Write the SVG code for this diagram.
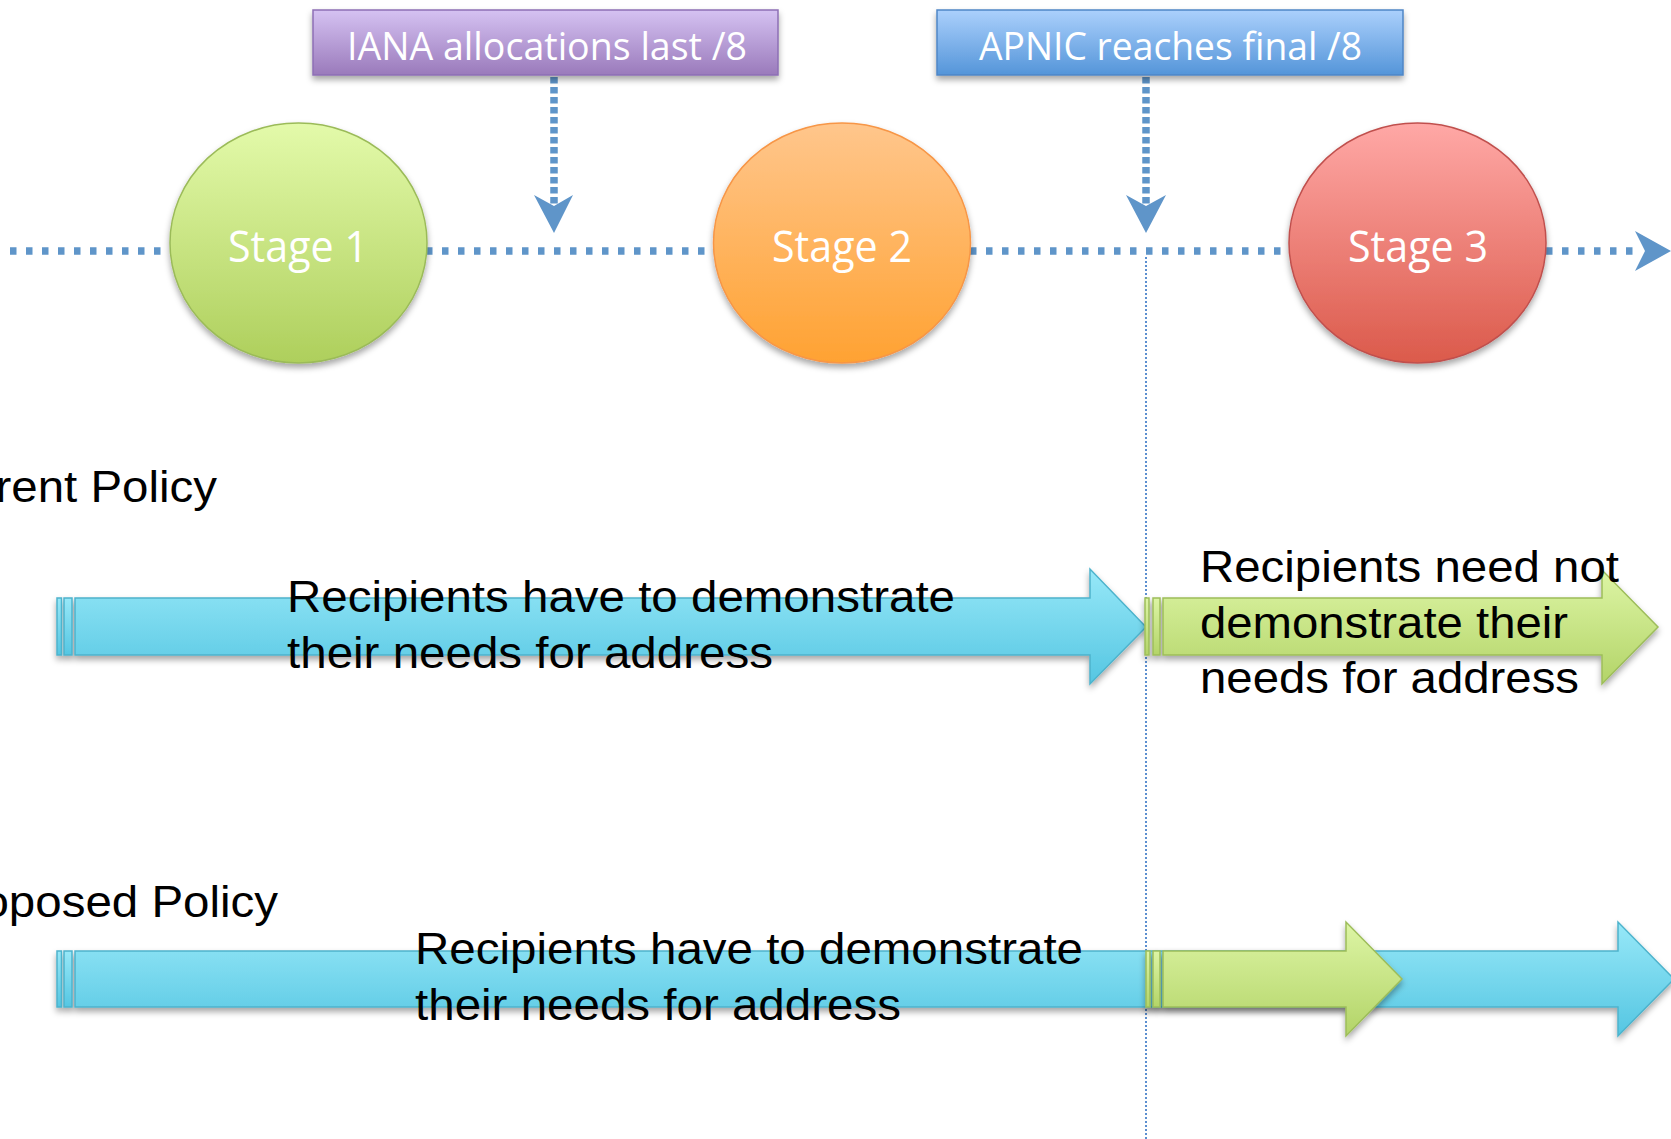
<svg xmlns="http://www.w3.org/2000/svg" width="1671" height="1139" viewBox="0 0 1671 1139">
<defs>
  <linearGradient id="gPurple" x1="0" y1="0" x2="0" y2="1"><stop offset="0" stop-color="#d5c2f2"/><stop offset="1" stop-color="#9a7abb"/></linearGradient>
  <linearGradient id="gBlueBox" x1="0" y1="0" x2="0" y2="1"><stop offset="0" stop-color="#abd0fc"/><stop offset="1" stop-color="#5495d9"/></linearGradient>
  <linearGradient id="gGreenC" x1="0" y1="0" x2="0" y2="1"><stop offset="0" stop-color="#e3faaa"/><stop offset="1" stop-color="#aecf5c"/></linearGradient>
  <linearGradient id="gOrange" x1="0" y1="0" x2="0" y2="1"><stop offset="0" stop-color="#ffc68c"/><stop offset="1" stop-color="#ffa232"/></linearGradient>
  <linearGradient id="gRed" x1="0" y1="0" x2="0" y2="1"><stop offset="0" stop-color="#ffa8a6"/><stop offset="1" stop-color="#db5a4b"/></linearGradient>
  <linearGradient id="gCyan" gradientUnits="objectBoundingBox" x1="0" y1="0" x2="0" y2="1"><stop offset="0" stop-color="#97e8f8"/><stop offset="1" stop-color="#55c6e2"/></linearGradient>
  <linearGradient id="gLime" x1="0" y1="0" x2="0" y2="1"><stop offset="0" stop-color="#ddf5a5"/><stop offset="1" stop-color="#b3d468"/></linearGradient>
  <filter id="sh" x="-10%" y="-20%" width="120%" height="150%">
    <feDropShadow dx="0" dy="4" stdDeviation="3" flood-color="#000" flood-opacity="0.35"/>
  </filter>
  <style>
    .tl { fill:none; stroke:#5f95c9; stroke-width:7.5; }
    .hd { fill:#5f95c9; }
    .box { stroke-width:1.5; filter:url(#sh); }
    .boxt { font-family:"Open Sans","Noto Sans",sans-serif; font-size:38px; fill:#ffffff; }
    .stg { stroke-width:1.5; filter:url(#sh); }
    .stgt { font-family:"Open Sans","Noto Sans",sans-serif; font-size:43px; fill:#ffffff; }
    .cy { fill:url(#gCyan); stroke:#4db3cc; stroke-width:1.5; }
    .lm { fill:url(#gLime); stroke:#9dbd5a; stroke-width:1.5; }
    .t { font-family:"Liberation Sans",Arial,sans-serif; font-size:44px; fill:#000; }
  </style>
</defs>
<g id="connectors">
  <line class="tl" x1="10" y1="251" x2="1640" y2="251" stroke-dasharray="6.5 9.5"/>
  <polygon class="hd" points="1635,231 1671,251 1635,271 1645,251"/>
  <line class="tl" x1="554" y1="77" x2="554" y2="205" stroke-dasharray="6.5 3.5"/>
  <polygon class="hd" points="534,195 554,233 573,195 554,206"/>
  <line class="tl" x1="1146" y1="77" x2="1146" y2="205" stroke-dasharray="6.5 3.5"/>
  <polygon class="hd" points="1126,195 1146,233 1166,195 1146,206"/>
  <line x1="1146" y1="257" x2="1146" y2="1139" stroke="#5b8fd0" stroke-width="2" stroke-dasharray="2 2"/>
</g>
<g id="iana">
  <rect class="box" x="313" y="10" width="465" height="65" fill="url(#gPurple)" stroke="#8d6fb5"/>
  <text class="boxt" x="347" y="60" textLength="400" lengthAdjust="spacingAndGlyphs">IANA allocations last /8</text>
</g>
<g id="apnic">
  <rect class="box" x="937" y="10" width="466" height="65" fill="url(#gBlueBox)" stroke="#4f86c6"/>
  <text class="boxt" x="979" y="60" textLength="383" lengthAdjust="spacingAndGlyphs">APNIC reaches final /8</text>
</g>
<g id="stage1">
  <ellipse class="stg" cx="298.5" cy="243" rx="128.5" ry="120" fill="url(#gGreenC)" stroke="#9bbb59"/>
  <text class="stgt" x="228" y="262" textLength="140" lengthAdjust="spacingAndGlyphs">Stage 1</text>
</g>
<g id="stage2">
  <ellipse class="stg" cx="842" cy="243" rx="128.5" ry="120" fill="url(#gOrange)" stroke="#f79646"/>
  <text class="stgt" x="772" y="262" textLength="140" lengthAdjust="spacingAndGlyphs">Stage 2</text>
</g>
<g id="stage3">
  <ellipse class="stg" cx="1417.5" cy="243" rx="128.5" ry="120" fill="url(#gRed)" stroke="#c0504d"/>
  <text class="stgt" x="1348" y="262" textLength="140" lengthAdjust="spacingAndGlyphs">Stage 3</text>
</g>
<g id="current-label">
  <text class="t" x="-81" y="502" textLength="298" lengthAdjust="spacingAndGlyphs">Current Policy</text>
</g>
<g id="current-blue-arrow" filter="url(#sh)">
  <rect class="cy" x="57" y="598" width="4.5" height="57"/>
  <rect class="cy" x="64" y="598" width="8" height="57"/>
  <path class="cy" d="M75,598 H1090 V569 L1146,627 L1090,684 V655 H75 Z"/>
</g>
<g id="current-green-arrow" filter="url(#sh)">
  <rect class="lm" x="1145" y="598" width="4" height="57"/>
  <rect class="lm" x="1153" y="598" width="7" height="57"/>
  <path class="lm" d="M1163,598 H1602 V570 L1658,627 L1602,684 V655 H1163 Z"/>
</g>
<g id="current-left-text">
  <text class="t" x="287" y="612" textLength="668" lengthAdjust="spacingAndGlyphs">Recipients have to demonstrate</text>
  <text class="t" x="287" y="668" textLength="486" lengthAdjust="spacingAndGlyphs">their needs for address</text>
</g>
<g id="current-right-text">
  <text class="t" x="1200" y="582" textLength="419" lengthAdjust="spacingAndGlyphs">Recipients need not</text>
  <text class="t" x="1200" y="637.5" textLength="368" lengthAdjust="spacingAndGlyphs">demonstrate their</text>
  <text class="t" x="1200" y="693" textLength="379" lengthAdjust="spacingAndGlyphs">needs for address</text>
</g>
<g id="proposed-label">
  <text class="t" x="-65" y="917" textLength="343" lengthAdjust="spacingAndGlyphs">Proposed Policy</text>
</g>
<g id="proposed-blue-arrow" filter="url(#sh)">
  <rect class="cy" x="57" y="951" width="4.5" height="56"/>
  <rect class="cy" x="64" y="951" width="8" height="56"/>
  <path class="cy" d="M75,951 H1618 V922 L1674,979 L1618,1036 V1007 H75 Z"/>
</g>
<g id="proposed-green-arrow" filter="url(#sh)">
  <rect class="lm" x="1146" y="951" width="4" height="56"/>
  <rect class="lm" x="1153" y="951" width="7" height="56"/>
  <path class="lm" d="M1163,951 H1346 V922 L1402,979 L1346,1036 V1007 H1163 Z"/>
</g>
<g id="proposed-text">
  <text class="t" x="415" y="964" textLength="668" lengthAdjust="spacingAndGlyphs">Recipients have to demonstrate</text>
  <text class="t" x="415" y="1020" textLength="486" lengthAdjust="spacingAndGlyphs">their needs for address</text>
</g>
</svg>
